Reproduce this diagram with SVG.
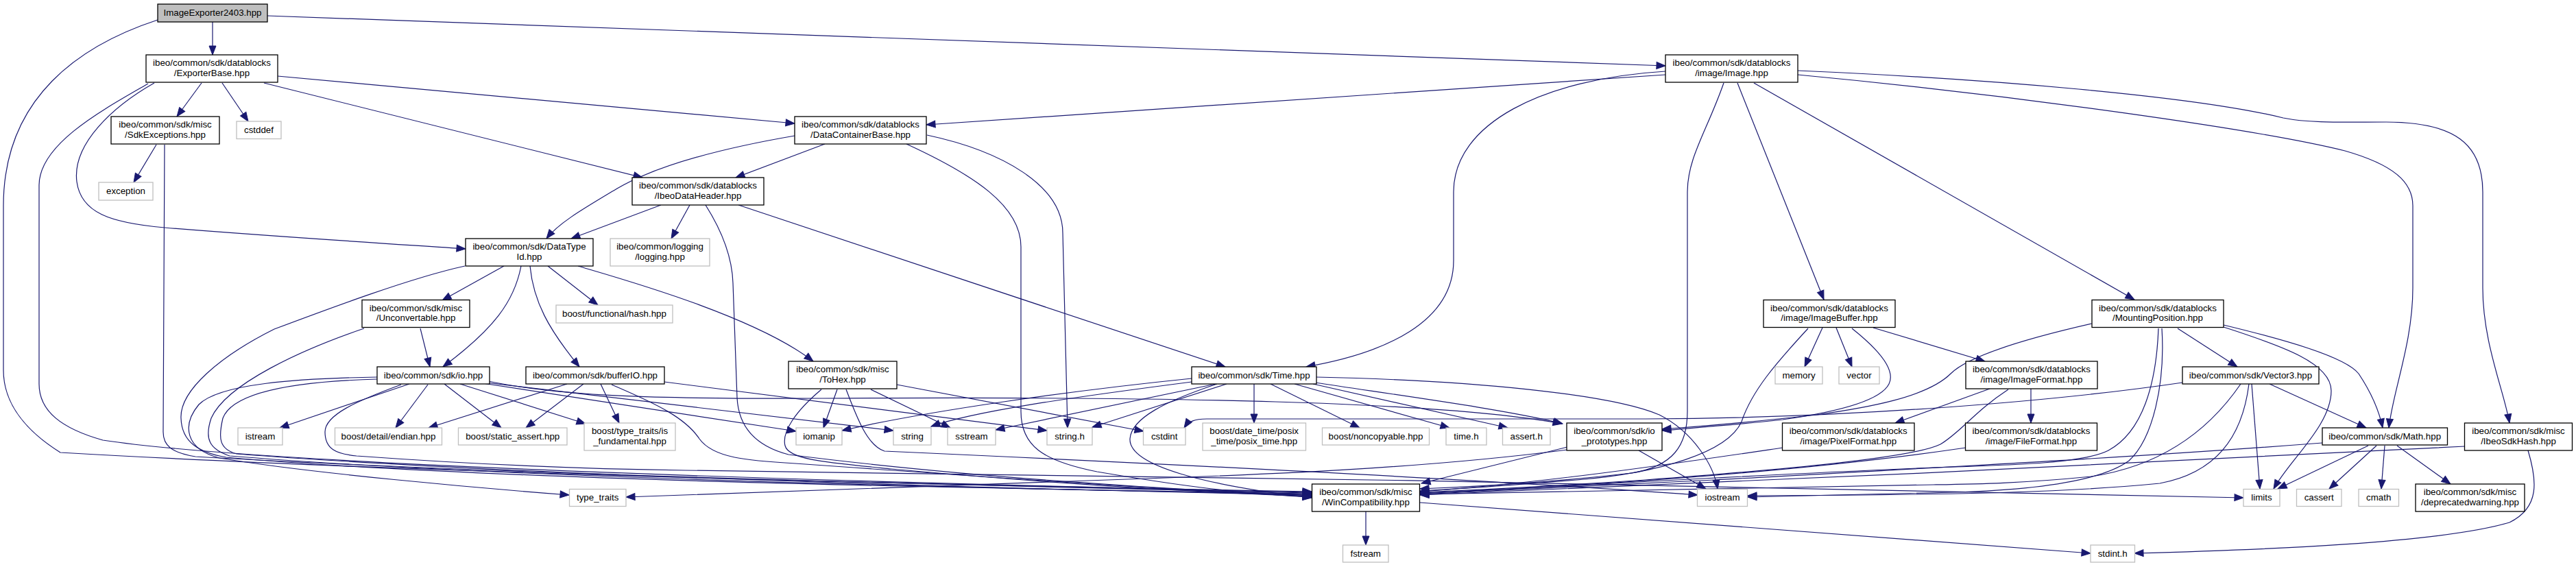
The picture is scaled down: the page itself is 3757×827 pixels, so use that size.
<svg xmlns="http://www.w3.org/2000/svg" width="3757" height="827" viewBox="0 0 3757 827">
<defs>
<marker id="a" markerUnits="userSpaceOnUse" markerWidth="14" markerHeight="11" refX="13" refY="5" orient="auto" overflow="visible">
<path d="M0,0 L13,5 L0,10 z" fill="#191970" stroke="#191970" stroke-width="1"/>
</marker>
<style>
.n rect{fill:#ffffff;stroke:#000000;stroke-width:1.3}
.g rect{fill:#ffffff;stroke:#bfbfbf;stroke-width:1.3}
.r rect{fill:#bfbfbf;stroke:#000000;stroke-width:1.3}
text{font-family:"Liberation Sans",Arial,Helvetica,sans-serif;font-size:13.33px;fill:#000000;text-anchor:middle}
#edges path{fill:none;stroke:#191970;stroke-width:1.2;marker-end:url(#a)}
</style>
</defs>
<rect x="0" y="0" width="3757" height="827" fill="#ffffff"/>
<g id="edges">
<path d="M310,32 L310,80"/>
<path d="M390,23 L2429,96"/>
<path d="M230,29 C120,65 5,140 5,300 L5,540 C5,590 40,630 88,660 C600,690 1400,708 1913,717"/>
<path d="M294,121 L258,170"/>
<path d="M324,121 L362,177"/>
<path d="M385,121 L937,259"/>
<path d="M405,111 L1159,180"/>
<path d="M225,121 C165,155 105,210 112,265 C118,310 160,325 240,332 C400,345 560,355 679,363"/>
<path d="M216,122 C150,160 57,210 57,270 L57,560 C57,600 90,625 150,642 C400,680 1300,705 1913,718"/>
<path d="M228,211 L195,266"/>
<path d="M240,211 L238,630 C238,650 250,660 285,666 C700,690 1400,708 1913,719"/>
<path d="M2429,109 L1351,182"/>
<path d="M2429,104 C2250,115 2120,180 2120,280 L2120,380 C2120,470 2020,515 1905,535"/>
<path d="M2514,121 C2490,190 2461,230 2461,280 L2461,600 C2461,650 2440,680 2380,690 C2250,705 2150,710 2071,713"/>
<path d="M2534,121 L2660,437"/>
<path d="M2558,121 L3113,437"/>
<path d="M2622,109 C2950,140 3300,190 3420,220 C3490,240 3519,265 3519,300 L3519,420 C3519,500 3490,570 3484,624"/>
<path d="M2622,103 C2900,115 3200,140 3330,172 C3370,180 3420,178 3480,178 C3580,178 3621,210 3621,280 L3621,420 C3621,500 3652,570 3660,617"/>
<path d="M1159,198 C1060,215 960,240 900,275 C850,305 815,325 797,348"/>
<path d="M1203,210 L1073,259"/>
<path d="M1322,210 C1420,255 1489,300 1489,360 L1489,600 C1489,650 1520,672 1600,688 C1700,705 1800,720 1913,725"/>
<path d="M1352,197 C1460,220 1550,270 1550,340 L1557,624"/>
<path d="M964,299 L833,348"/>
<path d="M1006,299 L979,348"/>
<path d="M1029,299 C1055,340 1068,380 1069,413 L1075,580 C1077,620 1100,650 1150,663 C1400,695 1700,714 1913,723"/>
<path d="M1077,299 L1787,535"/>
<path d="M735,388 L645,438"/>
<path d="M760,388 C750,440 720,480 646,535"/>
<path d="M773,388 C778,440 800,480 845,535"/>
<path d="M799,388 L872,445"/>
<path d="M843,388 C900,405 1100,460 1186,527"/>
<path d="M678,388 C600,405 480,450 400,480 C320,520 262,570 264,610 C265,645 290,660 330,667 C700,700 1400,712 1913,720"/>
<path d="M613,479 L627,535"/>
<path d="M531,479 C440,510 330,560 308,610 C298,640 305,655 335,665 C700,695 1400,712 1913,721"/>
<path d="M597,560 L408,624"/>
<path d="M624,561 L577,624"/>
<path d="M648,560 L731,624"/>
<path d="M671,560 L854,618"/>
<path d="M550,550 C430,552 320,560 290,590 C265,620 270,655 320,668 C450,690 700,712 830,722"/>
<path d="M550,553 C440,556 340,570 325,610 C318,640 320,655 345,662 C700,690 1400,712 1913,722"/>
<path d="M704,559 L1161,629"/>
<path d="M708,558 L1303,628"/>
<path d="M712,556 C820,578 950,582 1200,581 C1700,578 2100,585 2278,618"/>
<path d="M585,561 C520,585 474,605 474,630 C474,655 490,662 520,665 C700,678 850,684 1000,686 C1600,692 2800,712 3272,726"/>
<path d="M827,560 L625,624"/>
<path d="M851,560 L767,624"/>
<path d="M876,560 L903,617"/>
<path d="M969,557 L1527,628"/>
<path d="M892,561 C960,590 1000,610 1020,640 C1040,668 1090,672 1160,676 C1500,700 1700,714 1913,724"/>
<path d="M1221,568 L1201,624"/>
<path d="M1270,568 L1386,624"/>
<path d="M1308,561 L1668,629"/>
<path d="M1198,568 C1160,600 1140,630 1145,650 C1150,670 1200,674 1300,684 C1500,702 1700,716 1913,724"/>
<path d="M1234,568 C1250,610 1265,650 1290,658 C1600,672 2100,695 2476,722"/>
<path d="M1738,552 C1560,570 1350,600 1228,628"/>
<path d="M1738,557 C1560,580 1420,600 1358,622"/>
<path d="M1773,560 L1452,627"/>
<path d="M1789,560 L1593,623"/>
<path d="M1775,560 C1700,585 1650,610 1648,640 C1646,680 1760,708 1913,726"/>
<path d="M1829,560 L1829,617"/>
<path d="M1853,560 L1983,624"/>
<path d="M1888,560 L2114,624"/>
<path d="M1915,560 L2199,624"/>
<path d="M1918,558 C2050,578 2200,598 2279,618"/>
<path d="M1920,550 C2150,555 2350,575 2420,605 C2470,630 2500,680 2505,713"/>
<path d="M2286,656 C2100,680 1900,690 1700,697 C1400,707 1100,718 913,725"/>
<path d="M2286,652 L2073,705"/>
<path d="M2390,657 L2488,713"/>
<path d="M2658,478 L2632,535"/>
<path d="M2678,478 L2701,535"/>
<path d="M2732,478 L2895,527"/>
<path d="M2701,479 C2740,510 2765,540 2755,560 C2740,590 2650,605 2600,612 C2530,620 2470,624 2424,628"/>
<path d="M2637,479 C2590,530 2555,570 2540,615 C2520,660 2420,690 2300,700 C2200,708 2120,714 2071,716"/>
<path d="M3176,479 L3263,535"/>
<path d="M3051,472 C2950,495 2870,520 2845,545 C2810,580 2720,595 2650,605 C2560,615 2480,622 2424,626"/>
<path d="M3148,479 C3145,560 3125,630 3075,657 C3040,675 2950,678 2820,682 C2500,695 2250,712 2071,720"/>
<path d="M3153,479 C3158,560 3140,640 3105,672 C3060,705 2950,715 2850,718 C2700,722 2600,724 2549,725"/>
<path d="M3243,474 C3330,495 3420,520 3440,545 C3460,575 3470,600 3475,624"/>
<path d="M3243,477 C3330,505 3400,530 3400,570 C3400,620 3340,670 3316,713"/>
<path d="M3183,558 C3000,585 2700,610 2400,611 L1760,611 C1742,611 1733,615 1727,624"/>
<path d="M3284,560 L3296,713"/>
<path d="M3310,560 L3451,624"/>
<path d="M3268,560 C3220,630 3150,680 3050,695 C2950,705 2880,706 2820,707 C2500,712 2250,717 2071,721"/>
<path d="M3280,560 C3270,640 3230,690 3150,705 C3000,720 2800,722 2549,723"/>
<path d="M2902,567 L2764,617"/>
<path d="M2962,567 L2962,617"/>
<path d="M2929,568 C2880,600 2860,630 2830,648 C2790,668 2600,685 2400,700 C2250,710 2120,716 2071,718"/>
<path d="M2600,653 C2450,675 2250,705 2071,717"/>
<path d="M2867,653 C2650,685 2350,708 2071,719"/>
<path d="M3387,646 C3100,668 2820,682 2500,700 C2300,710 2150,716 2071,721"/>
<path d="M3454,650 L3322,713"/>
<path d="M3466,650 L3397,713"/>
<path d="M3478,650 L3473,713"/>
<path d="M3496,650 L3574,706"/>
<path d="M3595,651 C3200,672 2500,705 2071,722"/>
<path d="M3687,657 C3700,700 3705,740 3660,762 C3560,792 3300,802 3113,807"/>
<path d="M1992,746 L1992,795"/>
<path d="M2071,733 L3049,807"/>
</g>
<g id="n0" class="r"><rect x="230" y="6" width="160" height="26"/><text x="310" y="23">ImageExporter2403.hpp</text></g>
<g id="n1" class="n"><rect x="213" y="80" width="192" height="40"/><text x="309" y="96.3">ibeo/common/sdk/datablocks</text><text x="309" y="110.7">/ExporterBase.hpp</text></g>
<g id="n2" class="n"><rect x="2429" y="80" width="193" height="40"/><text x="2525.5" y="96.3">ibeo/common/sdk/datablocks</text><text x="2525.5" y="110.7">/image/Image.hpp</text></g>
<g id="n3" class="n"><rect x="162" y="170" width="158" height="40"/><text x="241" y="186.3">ibeo/common/sdk/misc</text><text x="241" y="200.7">/SdkExceptions.hpp</text></g>
<g id="n4" class="g"><rect x="345" y="177" width="65" height="25.5"/><text x="377.5" y="193.7">cstddef</text></g>
<g id="n5" class="n"><rect x="1159" y="170" width="192" height="40"/><text x="1255" y="186.3">ibeo/common/sdk/datablocks</text><text x="1255" y="200.7">/DataContainerBase.hpp</text></g>
<g id="n6" class="n"><rect x="922" y="259" width="192" height="40"/><text x="1018" y="275.3">ibeo/common/sdk/datablocks</text><text x="1018" y="289.7">/IbeoDataHeader.hpp</text></g>
<g id="n7" class="g"><rect x="144" y="266" width="79" height="26"/><text x="183.5" y="282.7">exception</text></g>
<g id="n8" class="n"><rect x="679" y="348" width="186" height="40"/><text x="772" y="364.3">ibeo/common/sdk/DataType</text><text x="772" y="378.7">Id.hpp</text></g>
<g id="n9" class="g"><rect x="890" y="348" width="145" height="40"/><text x="962.5" y="364.3">ibeo/common/logging</text><text x="962.5" y="378.7">/logging.hpp</text></g>
<g id="n10" class="n"><rect x="528" y="437.5" width="157" height="40"/><text x="606.5" y="453.8">ibeo/common/sdk/misc</text><text x="606.5" y="468.2">/Unconvertable.hpp</text></g>
<g id="n11" class="g"><rect x="811" y="445" width="170" height="26"/><text x="896" y="461.7">boost/functional/hash.hpp</text></g>
<g id="n12" class="n"><rect x="2572" y="437.5" width="192" height="40"/><text x="2668" y="453.8">ibeo/common/sdk/datablocks</text><text x="2668" y="468.2">/image/ImageBuffer.hpp</text></g>
<g id="n13" class="n"><rect x="3051" y="437.5" width="192" height="40"/><text x="3147" y="453.8">ibeo/common/sdk/datablocks</text><text x="3147" y="468.2">/MountingPosition.hpp</text></g>
<g id="n14" class="n"><rect x="1150" y="527" width="158" height="40"/><text x="1229" y="543.3">ibeo/common/sdk/misc</text><text x="1229" y="557.7">/ToHex.hpp</text></g>
<g id="n15" class="n"><rect x="2867" y="527" width="192" height="40"/><text x="2963" y="543.3">ibeo/common/sdk/datablocks</text><text x="2963" y="557.7">/image/ImageFormat.hpp</text></g>
<g id="n16" class="n"><rect x="550" y="535" width="164" height="25"/><text x="632" y="551.7">ibeo/common/sdk/io.hpp</text></g>
<g id="n17" class="n"><rect x="767" y="535" width="202" height="25"/><text x="868" y="551.7">ibeo/common/sdk/bufferIO.hpp</text></g>
<g id="n18" class="n"><rect x="1738" y="535" width="182" height="25"/><text x="1829" y="551.7">ibeo/common/sdk/Time.hpp</text></g>
<g id="n19" class="g"><rect x="2589" y="535" width="69" height="25"/><text x="2623.5" y="551.7">memory</text></g>
<g id="n20" class="g"><rect x="2682" y="535" width="59" height="25"/><text x="2711.5" y="551.7">vector</text></g>
<g id="n21" class="n"><rect x="3183" y="535" width="199" height="25"/><text x="3282.5" y="551.7">ibeo/common/sdk/Vector3.hpp</text></g>
<g id="n22" class="g"><rect x="347" y="624" width="65" height="25"/><text x="379.5" y="640.7">istream</text></g>
<g id="n23" class="g"><rect x="488.5" y="624" width="156" height="25"/><text x="566.5" y="640.7">boost/detail/endian.hpp</text></g>
<g id="n24" class="g"><rect x="668.5" y="624" width="158.5" height="25"/><text x="747.7" y="640.7">boost/static_assert.hpp</text></g>
<g id="n25" class="g"><rect x="852" y="617" width="133" height="40"/><text x="918.5" y="633.3">boost/type_traits/is</text><text x="918.5" y="647.7">_fundamental.hpp</text></g>
<g id="n26" class="g"><rect x="1161" y="624" width="67" height="25"/><text x="1194.5" y="640.7">iomanip</text></g>
<g id="n27" class="g"><rect x="1303" y="624" width="55" height="25"/><text x="1330.5" y="640.7">string</text></g>
<g id="n28" class="g"><rect x="1382" y="624" width="70" height="25"/><text x="1417" y="640.7">sstream</text></g>
<g id="n29" class="g"><rect x="1527" y="624" width="66" height="25"/><text x="1560" y="640.7">string.h</text></g>
<g id="n30" class="g"><rect x="1667.5" y="624" width="61.5" height="25"/><text x="1698.2" y="640.7">cstdint</text></g>
<g id="n31" class="g"><rect x="1754" y="617" width="150.5" height="40"/><text x="1829.2" y="633.3">boost/date_time/posix</text><text x="1829.2" y="647.7">_time/posix_time.hpp</text></g>
<g id="n32" class="g"><rect x="1928.5" y="624" width="156" height="25"/><text x="2006.5" y="640.7">boost/noncopyable.hpp</text></g>
<g id="n33" class="g"><rect x="2109" y="624" width="59" height="25"/><text x="2138.5" y="640.7">time.h</text></g>
<g id="n34" class="g"><rect x="2191.5" y="624" width="69.5" height="25"/><text x="2226.2" y="640.7">assert.h</text></g>
<g id="n35" class="n"><rect x="2285" y="617" width="139" height="40"/><text x="2354.5" y="633.3">ibeo/common/sdk/io</text><text x="2354.5" y="647.7">_prototypes.hpp</text></g>
<g id="n36" class="n"><rect x="2599.5" y="617" width="192.5" height="40"/><text x="2695.7" y="633.3">ibeo/common/sdk/datablocks</text><text x="2695.7" y="647.7">/image/PixelFormat.hpp</text></g>
<g id="n37" class="n"><rect x="2866.5" y="617" width="192" height="40"/><text x="2962.5" y="633.3">ibeo/common/sdk/datablocks</text><text x="2962.5" y="647.7">/image/FileFormat.hpp</text></g>
<g id="n38" class="n"><rect x="3387" y="624" width="182.5" height="25"/><text x="3478.2" y="640.7">ibeo/common/sdk/Math.hpp</text></g>
<g id="n39" class="n"><rect x="3594.5" y="617" width="157" height="40"/><text x="3673" y="633.3">ibeo/common/sdk/misc</text><text x="3673" y="647.7">/IbeoSdkHash.hpp</text></g>
<g id="n40" class="g"><rect x="830.5" y="713.5" width="82.5" height="25"/><text x="871.7" y="730.2">type_traits</text></g>
<g id="n41" class="n"><rect x="1913.5" y="706" width="157" height="40"/><text x="1992" y="722.3">ibeo/common/sdk/misc</text><text x="1992" y="736.7">/WinCompatibility.hpp</text></g>
<g id="n42" class="g"><rect x="2475.5" y="713.5" width="73" height="25"/><text x="2512" y="730.2">iostream</text></g>
<g id="n43" class="g"><rect x="3272" y="713.5" width="53" height="25"/><text x="3298.5" y="730.2">limits</text></g>
<g id="n44" class="g"><rect x="3349.5" y="713.5" width="65.5" height="25"/><text x="3382.2" y="730.2">cassert</text></g>
<g id="n45" class="g"><rect x="3440" y="713.5" width="58.5" height="25"/><text x="3469.2" y="730.2">cmath</text></g>
<g id="n46" class="n"><rect x="3523" y="706" width="159" height="40"/><text x="3602.5" y="722.3">ibeo/common/sdk/misc</text><text x="3602.5" y="736.7">/deprecatedwarning.hpp</text></g>
<g id="n47" class="g"><rect x="1958.5" y="795" width="66.5" height="25"/><text x="1991.7" y="811.7">fstream</text></g>
<g id="n48" class="g"><rect x="3049" y="795" width="64.5" height="25"/><text x="3081.2" y="811.7">stdint.h</text></g>
</svg>
